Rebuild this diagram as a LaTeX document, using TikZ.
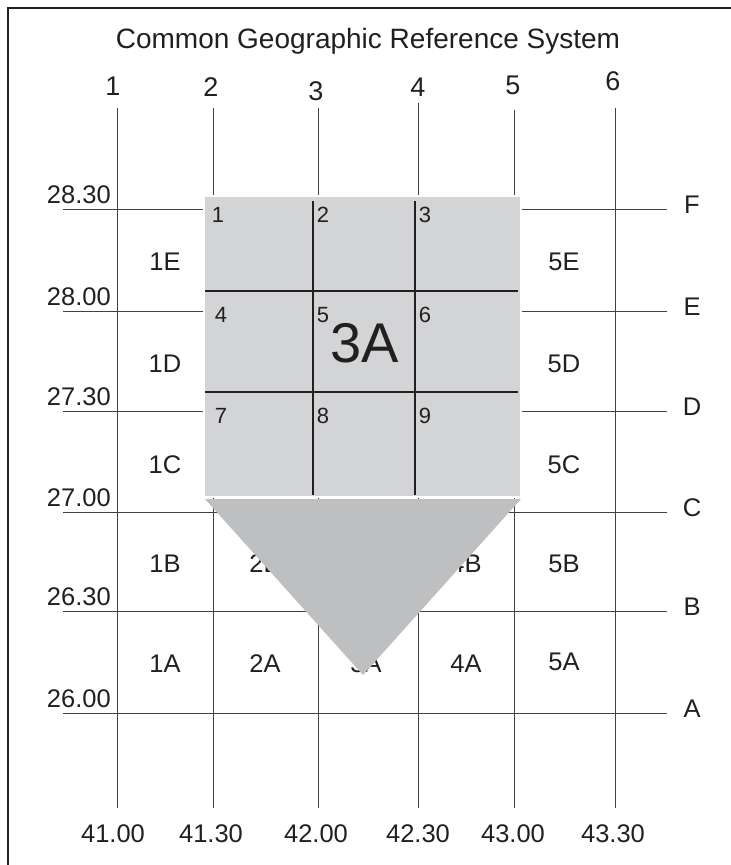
\documentclass[tikz,border=0pt]{standalone}
\usepackage{fontspec}
\setmainfont{Liberation Sans}
\usetikzlibrary{positioning}
\definecolor{ink}{RGB}{35,31,32}
\definecolor{panel}{RGB}{211,212,214}
\definecolor{wedge}{RGB}{190,191,193}
\tikzset{
  gridline/.style={line width=.9pt,ink!85},
  cutline/.style={line width=2.2pt,ink},
  lbl/.style={font=\fontsize{25.5}{25.5}\selectfont,text=ink,inner sep=0pt},
  sublbl/.style={font=\fontsize{22}{22}\selectfont,text=ink,inner sep=0pt},
}

\begin{document}
\begin{tikzpicture}[x=1pt,y=-1pt]
\useasboundingbox (0,0) rectangle (731,865);
\draw[line width=2pt,ink] (8,865) -- (8,8) -- (731,8);
\node[lbl,font=\fontsize{28}{28}\selectfont,anchor=base] (title) at (368,48.5) {Common Geographic Reference System};
% longitude columns
\foreach \n/\x/\t/\lx/\ly/\lon in {1/117/108/113/86/41.00,2/213/108/211/87/41.30,3/318/108/316/91/42.00,
    4/418/103/418/87/42.30,5/514/110/513/85/43.00,6/615/108/613/81/43.30}{
  \draw[gridline] (\x,\t) -- (\x,808);
  \node[lbl,font=\fontsize{27}{27}\selectfont] (col\n) at (\lx,\ly) {\n};
  \node[lbl] (lon\n) at (\lx,834) {\lon};
}
% latitude rows
\foreach \l/\y/\lat in {F/209/28.30,E/311/28.00,D/411/27.30,C/512/27.00,B/611/26.30,A/713/26.00}{
  \draw[gridline] (63,\y) -- (667,\y);
  \node[lbl,anchor=base east] (lat\l) at (111,\y-6) {\lat};
  \node[lbl] (row\l) at (692,\y-4) {\l};
}
% cell names
\foreach \c/\x/\r/\y in {1/165/E/262,1/165/D/364,1/165/C/465,1/165/B/564,1/165/A/664,
    2/265/B/564,2/265/A/664,3/366/A/664,4/466/B/564,4/466/A/664,
    5/564/E/262,5/564/D/364,5/564/C/465,5/564/B/564,5/564/A/662}{
  \node[lbl] (cell\c\r) at (\x,\y) {\c\r};
}
% zoomed cell 3A
\filldraw[fill=panel,draw=white,line width=1.5pt] (204,196) rectangle (521,497);
\draw[cutline] (313,201) -- (313,495);
\draw[cutline] (415,201) -- (415,495);
\draw[cutline] (205,291) -- (518,291);
\draw[cutline] (205,392) -- (518,392);
\foreach \k/\x/\y in {1/218/215,2/323/215,3/425/215,4/221/315,5/323/315,6/425/315,7/221/416,8/323/416,9/425/416}{
  \node[sublbl] (sub\k) at (\x,\y) {\k};
}
\node[lbl,font=\fontsize{56}{56}\selectfont] (big) at (365,343) {3A};
\fill[wedge] (205,499) -- (521,499) -- (363,675) -- cycle;
\end{tikzpicture}
\end{document}
